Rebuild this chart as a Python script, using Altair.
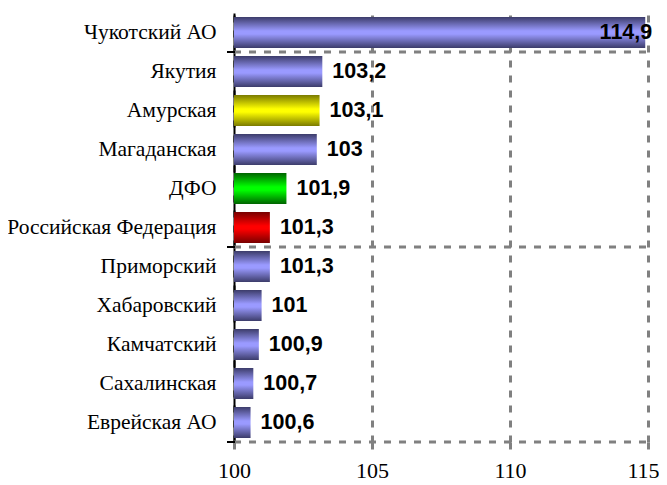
import altair as alt
import pandas as pd

categories = ["Чукотский АО", "Якутия", "Амурская", "Магаданская", "ДФО",
              "Российская Федерация", "Приморский", "Хабаровский", "Камчатский",
              "Сахалинская", "Еврейская АО"]
values = [114.9, 103.2, 103.1, 103.0, 101.9, 101.3, 101.3, 101.0, 100.9, 100.7, 100.6]
groups = ["blue", "blue", "yellow", "blue", "green", "red",
          "blue", "blue", "blue", "blue", "blue"]
x_ticks = [100, 105, 110, 115]

def fmt(v):
    s = ("%g" % v)
    return s.replace(".", ",")

df = pd.DataFrame({"cat": categories, "v": values, "grp": groups,
                   "label": [fmt(v) for v in values]})

grad_colors = {
    "blue": ("#3c3c6a", "#9a9aff"),
    "yellow": ("#7a7a00", "#ffff00"),
    "green": ("#006400", "#00ff00"),
    "red": ("#780000", "#ff0000"),
}

W, H = 414, 429
yscale = alt.Scale(domain=categories, paddingInner=0, paddingOuter=0)
xscale = alt.Scale(domain=[100, 115], nice=False, zero=False)

base = alt.Chart(df)

layers = []
for g, (dark, light) in grad_colors.items():
    grad = alt.Gradient(gradient="linear", x1=0, y1=0, x2=0, y2=1,
                        stops=[alt.GradientStop(color=dark, offset=0),
                               alt.GradientStop(color=light, offset=0.45),
                               alt.GradientStop(color=light, offset=0.55),
                               alt.GradientStop(color=dark, offset=1)])
    layers.append(
        base.transform_filter(alt.datum.grp == g).mark_bar(size=31, color=grad).encode(
            y=alt.Y("cat:N", scale=yscale,
                    axis=alt.Axis(title=None, domain=True, domainColor="black",
                                  domainWidth=2, ticks=False, labelFont="Liberation Serif",
                                  labelFontSize=21.5, labelColor="black", labelPadding=18,
                                  labelLimit=300)),
            x=alt.X("v:Q", scale=xscale,
                    axis=alt.Axis(title=None, values=x_ticks, domain=False,
                                  grid=True, gridColor="#808080", gridWidth=3,
                                  gridDash=[7, 8], tickColor="#808080", tickWidth=3,
                                  tickDash=[7, 8], tickSize=8, labelFlush=False,
                                  labelOffset={"condition": {"test": "datum.value == 115", "value": -5},
                                               "value": 0},
                                  labelFont="Liberation Serif", labelFontSize=22,
                                  labelColor="black", labelPadding=10)),
            x2=alt.datum(100),
        )
    )

grid_top = pd.DataFrame({"cat": ["Якутия", "Приморский"]})
grid_bot = pd.DataFrame({"cat": ["Еврейская АО"]})

for gd, bp in [(grid_top, 0), (grid_bot, 1)]:
    layers.append(
        alt.Chart(gd).mark_rule(color="#808080", strokeWidth=3, strokeDash=[7, 8]).encode(
            y=alt.Y("cat:N", scale=yscale, bandPosition=bp),
            x=alt.value(0), x2=alt.value(W))
    )
    layers.append(
        alt.Chart(gd).mark_rule(color="black", strokeWidth=2).encode(
            y=alt.Y("cat:N", scale=yscale, bandPosition=bp),
            x=alt.value(-7), x2=alt.value(1))
    )

text_common = dict(font="Liberation Sans", fontWeight="bold", fontSize=21.5,
                   color="black", baseline="middle")
layers.append(
    base.transform_filter(alt.datum.v < 114).mark_text(align="left", dx=10, **text_common).encode(
        y=alt.Y("cat:N", scale=yscale), x=alt.X("v:Q", scale=xscale), text="label:N")
)
layers.append(
    base.transform_filter(alt.datum.v >= 114).mark_text(align="right", dx=7, **text_common).encode(
        y=alt.Y("cat:N", scale=yscale), x=alt.X("v:Q", scale=xscale), text="label:N")
)

chart = alt.layer(*layers).properties(
    width=W, height=H,
    autosize=alt.AutoSizeParams(type="none"),
    padding={"left": 226, "top": 5, "right": 11, "bottom": 43},
).configure_view(stroke=None)

chart.save("out.html", embed_options={"renderer": "svg", "actions": False})
